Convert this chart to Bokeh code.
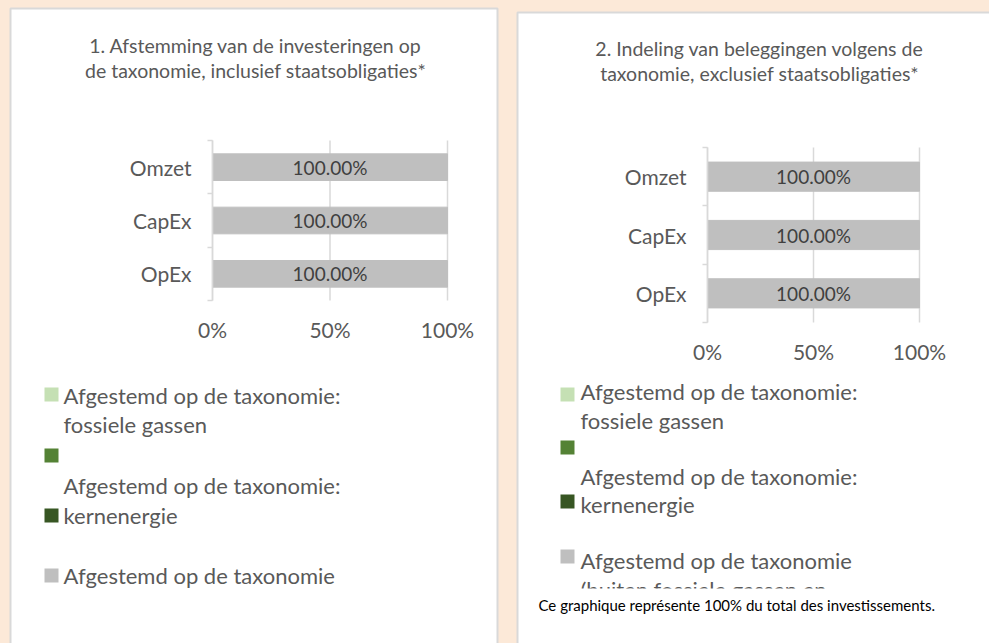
from bokeh.plotting import figure
from bokeh.models import Range1d, LinearAxis, FixedTicker
from bokeh.embed import file_html
from bokeh.resources import INLINE
from bokeh.core.properties import value

# ---------------- data ----------------
categories = ["OpEx", "CapEx", "Omzet"]          # bottom to top
values_incl = [1.0, 1.0, 1.0]                    # chart 1 (incl. staatsobligaties)
values_excl = [1.0, 1.0, 1.0]                    # chart 2 (excl. staatsobligaties)
x_ticks = [0, 0.5, 1.0]
x_tick_labels = ["0%", "50%", "100%"]
title_incl = ["1. Afstemming van de investeringen op",
              "de taxonomie, inclusief staatsobligaties*"]
title_excl = ["2. Indeling van beleggingen volgens de",
              "taxonomie, exclusief staatsobligaties*"]
legend_colors = ["#C5E0B4", "#548235", "#375623", "#BFBFBF"]
legend_lines_incl = ["Afgestemd op de taxonomie:", "fossiele gassen",
                     "Afgestemd op de taxonomie:", "kernenergie",
                     "Afgestemd op de taxonomie"]
legend_lines_excl = ["Afgestemd op de taxonomie:", "fossiele gassen",
                     "Afgestemd op de taxonomie:", "kernenergie",
                     "Afgestemd op de taxonomie",
                     "(buiten fossiele gassen en"]
footnote = "Ce graphique représente 100% du total des investissements."

PEACH = "#FCE9D8"
BORDER = "#D9D9D9"
TEXT = "#595959"
BAR = "#BFBFBF"
FONT = "Lato"

# page geometry (pixel coordinates of the window)
W, H = 989, 643
X0, Y0 = 0, 0

p = figure(width=W, height=H,
           x_range=Range1d(X0, X0 + W), y_range=Range1d(Y0 + H, Y0),
           min_border=0, min_border_left=0, min_border_right=0,
           min_border_top=0, min_border_bottom=0,
           toolbar_location=None, output_backend="svg",
           x_axis_location=None, y_axis_location=None)
p.title.visible = False
p.background_fill_color = PEACH
p.border_fill_color = PEACH
p.outline_line_color = None
p.grid.visible = False


def lin_range(p0, p1, v0, v1, pix_start, pix_end):
    """Range whose value v0 lands on pixel p0 and v1 on pixel p1."""
    k = (v1 - v0) / (p1 - p0)
    return Range1d(v0 + (pix_start - p0) * k, v0 + (pix_end - p0) * k)


def add_panel(n, vals, title_lines, legend_lines, cfg):
    # white panel with border
    p.quad(left=[cfg["pl"]], right=[cfg["pr"]], top=[cfg["pt"]], bottom=[700],
           fill_color="white", line_color=BORDER, line_width=2)

    # title
    p.text(x=[cfg["tx"]] * len(title_lines), y=cfg["ty"], text=title_lines,
           text_align="center", text_baseline="middle", text_color=TEXT,
           text_font=value(FONT), text_font_size="19.5px")

    # chart ranges
    xr, yr = f"cx{n}", f"cy{n}"
    ncat = len(categories)
    p.extra_x_ranges[xr] = lin_range(cfg["x0"], cfg["x1"], 0, 1, X0, X0 + W)
    p.extra_y_ranges[yr] = lin_range(cfg["yb"], cfg["yt"], 0, ncat, Y0 + H, Y0)

    ys = [i + 0.5 for i in range(ncat)]
    # gridlines
    p.segment(x0=x_ticks, x1=x_ticks, y0=[0] * len(x_ticks), y1=[ncat] * len(x_ticks),
              line_color=BORDER, line_width=1.5, x_range_name=xr, y_range_name=yr)
    # bars
    p.hbar(y=ys, left=0, right=vals, height=0.5, color=BAR,
           x_range_name=xr, y_range_name=yr)
    p.text(x=[v / 2 for v in vals], y=ys, text=[f"{v * 100:.2f}%" for v in vals],
           text_align="center", text_baseline="middle", text_color="#404040",
           text_font=value(FONT), text_font_size="19px",
           x_range_name=xr, y_range_name=yr)

    # x axis
    xa = LinearAxis(x_range_name=xr, y_range_name=yr, fixed_location=0, bounds=(0, 1),
                    ticker=FixedTicker(ticks=x_ticks),
                    major_label_overrides={t: l for t, l in zip(x_ticks, x_tick_labels)})
    xa.axis_line_color = None
    xa.major_tick_line_color = None
    xa.minor_tick_line_color = None
    xa.major_tick_in = 0
    xa.major_tick_out = 0
    xa.major_label_standoff = cfg["xs"]
    xa.major_label_text_font = FONT
    xa.major_label_text_font_size = "21px"
    xa.major_label_text_color = TEXT
    p.add_layout(xa, "below")

    # y axis
    ya = LinearAxis(x_range_name=xr, y_range_name=yr, fixed_location=0, bounds=(0, ncat),
                    ticker=FixedTicker(ticks=ys, minor_ticks=list(range(ncat + 1))),
                    major_label_overrides={y: c for y, c in zip(ys, categories)})
    ya.axis_line_color = BORDER
    ya.axis_line_width = 1.5
    ya.major_tick_line_color = None
    ya.minor_tick_line_color = BORDER
    ya.minor_tick_line_width = 1.5
    ya.minor_tick_in = 0
    ya.minor_tick_out = 5
    ya.major_tick_in = 0
    ya.major_tick_out = 0
    ya.major_label_standoff = 16
    ya.major_label_text_font = FONT
    ya.major_label_text_font_size = "21px"
    ya.major_label_text_color = TEXT
    p.add_layout(ya, "left")

    # legend
    s = 14
    p.quad(left=[cfg["sx"]] * len(legend_colors), right=[cfg["sx"] + s] * len(legend_colors),
           top=cfg["sq"], bottom=[t + s for t in cfg["sq"]],
           fill_color=legend_colors, line_color=None)
    p.text(x=[cfg["lx"]] * len(legend_lines), y=cfg["ly"], text=legend_lines,
           text_align="left", text_baseline="middle", text_color=TEXT,
           text_font=value(FONT), text_font_size="22px")


cfg_l = dict(pl=10, pr=497, pt=8, tx=255, ty=[45, 70],
             x0=212, x1=447, yb=300, yt=140, xs=16,
             sx=44, sq=[387, 448, 508, 568], lx=63, ly=[395, 424, 485, 515, 575])
cfg_r = dict(pl=517, pr=1010, pt=12, tx=759, ty=[48, 73],
             x0=707, x1=919, yb=322, yt=147, xs=16,
             sx=560, sq=[387, 440, 494, 549], lx=580, ly=[391, 420, 476, 504, 560, 589])

add_panel(1, values_incl, title_incl, legend_lines_incl, cfg_l)
add_panel(2, values_excl, title_excl, legend_lines_excl, cfg_r)

# the last legend line of panel 2 is cut off by the footnote area
p.quad(left=[570], right=[985], top=[588], bottom=[620], fill_color="white", line_color=None)
p.text(x=[538], y=[604], text=[footnote], text_align="left", text_baseline="middle",
       text_color="black", text_font=value(FONT), text_font_size="15px")

try:
    from bokeh.models import GlobalInlineStyleSheet
    p.stylesheets = [GlobalInlineStyleSheet(css=f"body {{ background-color: {PEACH}; }}")]
except Exception:
    pass

open("out.html", "w").write(file_html(p, INLINE))
